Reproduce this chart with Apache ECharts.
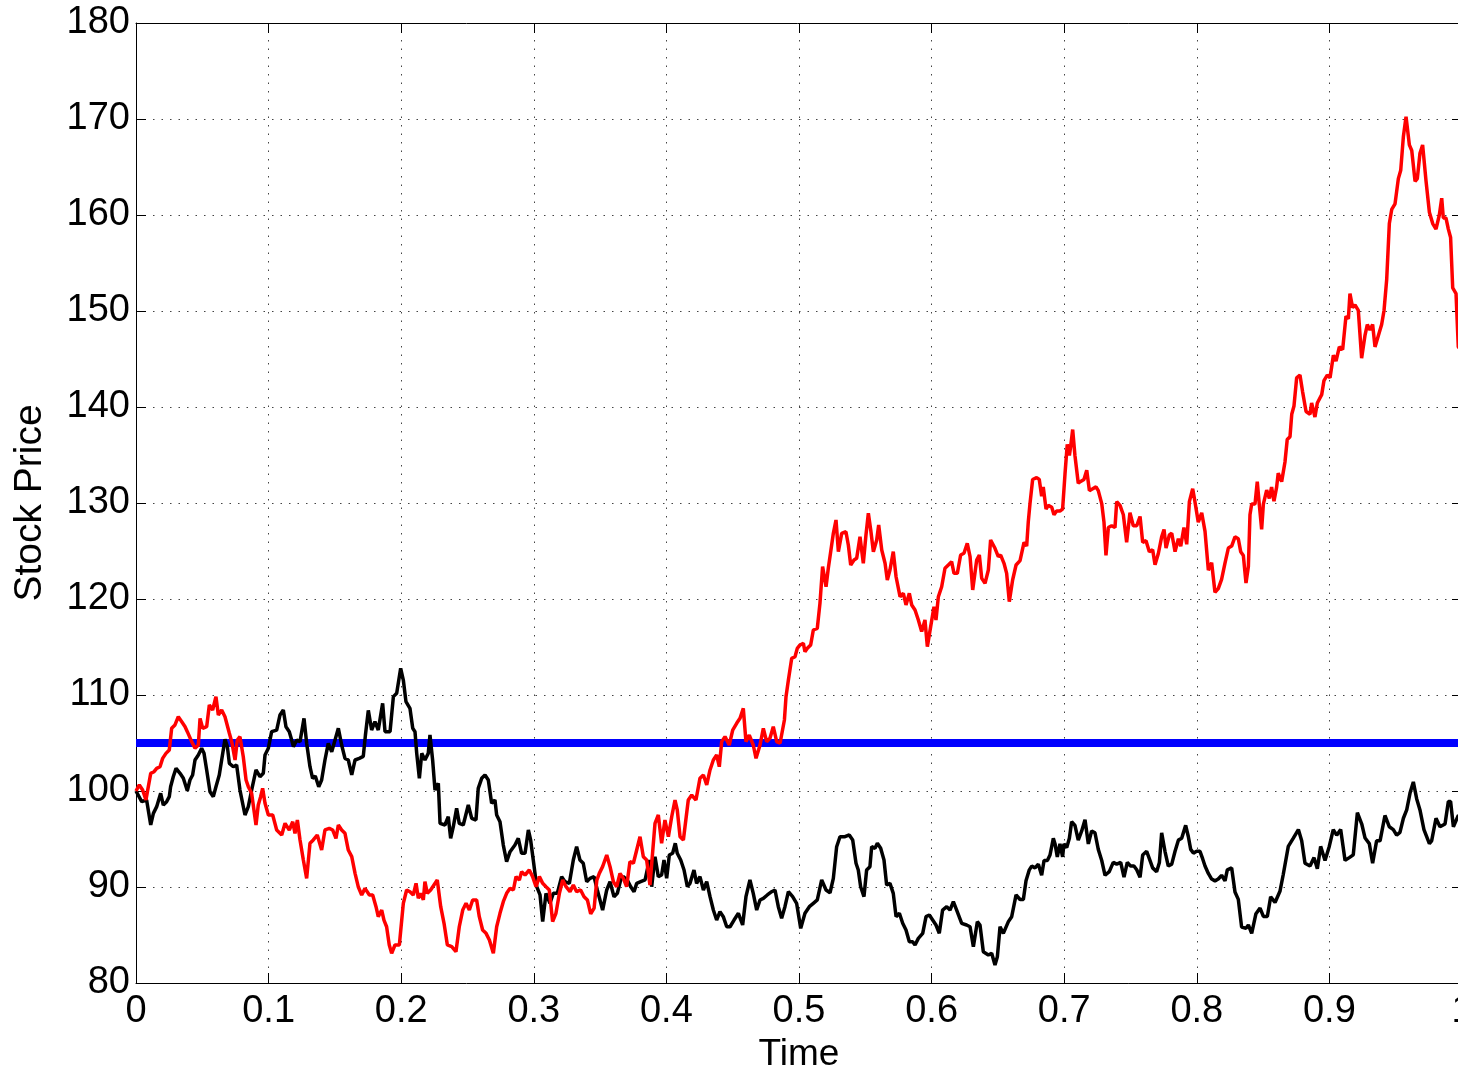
<!DOCTYPE html>
<html>
<head>
<meta charset="utf-8">
<script src="https://cdn.jsdelivr.net/npm/echarts@6/dist/echarts.min.js"></script>
<style>
html,body{margin:0;padding:0;background:#fff;}
#chart{width:1458px;height:1068px;}
</style>
</head>
<body>
<div id="chart"></div>
<script>
// ---- data ----
const strikePrice = 105;
const strikeTimes = [0, 1];

const blackTimes = [0,0.0043,0.0080,0.0111,0.0131,0.0156,0.0186,0.0206,0.0231,0.0251,0.0261,0.0281,0.0302,0.0332,0.0357,0.0387,0.0407,0.0427,0.0445,0.0470,0.0495,0.0513,0.0533,0.0558,0.0583,0.0603,0.0628,0.0646,0.0671,0.0689,0.0704,0.0734,0.0759,0.0784,0.0822,0.0847,0.0872,0.0905,0.0935,0.0960,0.0973,0.0998,0.1023,0.1061,0.1086,0.1111,0.1131,0.1156,0.1174,0.1187,0.1212,0.1237,0.1267,0.1287,0.1312,0.1332,0.1352,0.1378,0.1400,0.1425,0.1450,0.1476,0.1501,0.1526,0.1551,0.1576,0.1601,0.1627,0.1652,0.1684,0.1714,0.1730,0.1752,0.1777,0.1802,0.1827,0.1860,0.1878,0.1916,0.1941,0.1966,0.1996,0.2016,0.2036,0.2066,0.2087,0.2104,0.2117,0.2137,0.2155,0.2179,0.2204,0.2217,0.2237,0.2255,0.2280,0.2293,0.2330,0.2355,0.2373,0.2393,0.2418,0.2438,0.2468,0.2506,0.2532,0.2564,0.2581,0.2607,0.2632,0.2657,0.2682,0.2707,0.2720,0.2745,0.2770,0.2795,0.2821,0.2858,0.2883,0.2908,0.2934,0.2959,0.2976,0.2996,0.3022,0.3047,0.3067,0.3092,0.3122,0.3147,0.3177,0.3210,0.3235,0.3268,0.3298,0.3323,0.3348,0.3373,0.3399,0.3424,0.3454,0.3479,0.3519,0.3550,0.3575,0.3605,0.3630,0.3655,0.3675,0.3705,0.3731,0.3756,0.3776,0.3806,0.3839,0.3871,0.3889,0.3914,0.3939,0.3964,0.3982,0.4002,0.4022,0.4047,0.4067,0.4082,0.4108,0.4133,0.4158,0.4178,0.4208,0.4228,0.4253,0.4279,0.4304,0.4329,0.4354,0.4379,0.4404,0.4429,0.4455,0.4480,0.4510,0.4543,0.4575,0.4600,0.4630,0.4655,0.4681,0.4706,0.4731,0.4761,0.4794,0.4819,0.4844,0.4869,0.4894,0.4920,0.4952,0.4982,0.5013,0.5045,0.5078,0.5108,0.5138,0.5171,0.5204,0.5234,0.5259,0.5284,0.5309,0.5347,0.5379,0.5405,0.5430,0.5447,0.5465,0.5490,0.5510,0.5535,0.5548,0.5573,0.5591,0.5616,0.5641,0.5661,0.5686,0.5711,0.5732,0.5757,0.5782,0.5807,0.5832,0.5857,0.5875,0.5900,0.5933,0.5958,0.5983,0.6008,0.6033,0.6058,0.6083,0.6114,0.6139,0.6164,0.6189,0.6227,0.6264,0.6290,0.6315,0.6345,0.6365,0.6390,0.6428,0.6453,0.6478,0.6496,0.6516,0.6541,0.6579,0.6604,0.6637,0.6667,0.6692,0.6712,0.6737,0.6755,0.6780,0.6805,0.6830,0.6848,0.6873,0.6893,0.6918,0.6931,0.6948,0.6968,0.6988,0.6998,0.7019,0.7039,0.7056,0.7081,0.7106,0.7132,0.7157,0.7182,0.7207,0.7232,0.7257,0.7283,0.7308,0.7340,0.7370,0.7396,0.7426,0.7451,0.7476,0.7501,0.7526,0.7547,0.7572,0.7592,0.7622,0.7642,0.7667,0.7697,0.7718,0.7735,0.7760,0.7785,0.7811,0.7836,0.7861,0.7886,0.7916,0.7936,0.7954,0.7974,0.7999,0.8024,0.8044,0.8062,0.8087,0.8112,0.8137,0.8162,0.8187,0.8213,0.8230,0.8263,0.8288,0.8313,0.8338,0.8371,0.8389,0.8414,0.8446,0.8477,0.8502,0.8532,0.8557,0.8590,0.8627,0.8652,0.8690,0.8728,0.8766,0.8791,0.8816,0.8854,0.8884,0.8909,0.8934,0.8967,0.8999,0.9029,0.9055,0.9085,0.9118,0.9150,0.9180,0.9211,0.9244,0.9269,0.9301,0.9326,0.9356,0.9382,0.9419,0.9452,0.9482,0.9507,0.9532,0.9558,0.9583,0.9608,0.9633,0.9658,0.9683,0.9713,0.9754,0.9771,0.9804,0.9834,0.9872,0.9897,0.9914,0.9935,0.9972,1.0];
const blackPrices = [100,98.89,99.06,96.46,97.67,98.37,99.76,98.54,98.89,99.41,100.45,101.49,102.36,101.84,101.32,100.03,101.15,101.67,103.23,103.75,104.45,103.92,102.19,99.93,99.41,100.45,101.67,103.23,105.38,104.62,102.88,102.53,102.71,100.10,97.50,98.37,100.10,102.19,101.49,101.84,103.75,104.45,106.18,106.35,107.92,108.44,106.70,106.18,105.31,104.62,105.31,105.14,107.57,104.97,102.53,101.32,101.56,100.45,101.15,103.23,104.97,104.09,105.31,106.53,104.79,103.40,103.23,101.67,103.23,103.40,103.6,105.8,108.4,106.35,107.22,106.35,109.13,106.18,106.18,109.83,110.18,112.78,111.56,109.31,108.61,106.53,106.18,103.92,101.32,103.92,103.23,103.92,105.83,103.23,100.10,100.80,96.63,96.46,97.32,95.07,96.28,98.19,96.63,96.46,98.54,97.15,96.98,100.28,101.32,101.67,101.15,98.72,99.06,97.50,96.80,94.37,92.64,93.68,94.37,95.07,93.51,93.51,95.94,94.90,92.81,90.03,89.17,86.39,89.34,88.30,89.34,89.34,91.08,90.55,90.38,92.81,94.20,92.81,92.47,90.55,90.9,91.08,89.69,87.60,89.69,90.55,88.99,89.34,90.73,91.08,90.73,90.03,89.51,90.38,90.55,90.73,92.81,90.03,93.16,91.08,91.25,92.81,90.90,93.33,93.51,94.55,93.51,92.81,91.77,90.03,90.38,91.77,90.38,91.08,89.69,90.55,88.99,87.60,86.56,87.43,86.91,85.86,85.86,86.56,87.26,86.04,88.99,90.73,89.34,87.60,88.65,88.82,89.17,89.51,89.69,87.95,86.74,87.95,89.51,88.99,88.30,85.69,87.26,87.95,88.30,88.65,90.73,89.69,89.4,90.90,94.20,95.24,95.24,95.42,94.90,92.47,91.77,90.03,88.99,91.77,92.12,94.20,94.03,94.55,94.03,92.81,90.21,90.38,89.34,86.91,87.26,86.22,85.52,84.30,84.30,83.96,84.65,85.17,86.91,87.08,86.56,86.04,85.17,87.60,87.95,87.60,88.47,87.60,86.22,86.04,85.86,83.78,86.39,86.04,83.26,82.92,83.09,81.88,82.74,85.86,85.17,86.39,86.91,89.17,88.7,88.71,90.64,91.79,92.18,91.99,92.38,91.22,92.76,92.76,93.33,95.07,94.49,93.14,94.49,93.14,94.49,94.10,95.07,96.80,96.42,94.88,95.84,97.00,94.49,95.84,95.65,93.92,92.76,91.22,91.60,92.56,92.38,92.56,91.02,92.56,92.18,92.18,91.79,91.02,93.33,93.72,92.95,91.99,91.60,92.56,95.65,93.72,92.18,92.38,93.72,94.88,95.07,96.42,95.26,93.92,93.53,93.72,93.72,92.95,92.18,91.41,90.83,90.64,90.83,91.22,90.64,91.79,91.99,89.48,88.71,85.82,85.7,86.04,85.17,87.22,87.80,86.93,86.93,88.97,88.39,89.55,91.30,94.23,95.10,95.98,94.81,92.48,92.19,93.06,91.89,94.23,92.77,94.23,95.98,95.40,95.98,92.77,93.06,93.35,97.74,96.56,95.10,94.52,92.48,94.81,94.81,97.45,96.27,95.98,95.40,95.69,97.16,98.03,99.78,100.95,99.20,98.03,95.98,94.52,94.81,97.16,96.27,96.56,98.91,98.91,96.27,97.45,97.3];

const redTimes = [0,0.0025,0.0050,0.0075,0.0093,0.0111,0.0136,0.0156,0.0181,0.0201,0.0226,0.0251,0.0269,0.0294,0.0319,0.0345,0.0370,0.0387,0.0402,0.0420,0.0445,0.0470,0.0483,0.0503,0.0533,0.0553,0.0578,0.0603,0.0621,0.0646,0.0671,0.0704,0.0722,0.0747,0.0764,0.0784,0.0809,0.0830,0.0847,0.0872,0.0905,0.0922,0.0940,0.0955,0.0973,0.0998,0.1031,0.1061,0.1099,0.1124,0.1156,0.1182,0.1199,0.1217,0.1237,0.1262,0.1287,0.1312,0.1337,0.1367,0.1400,0.1425,0.1458,0.1483,0.1508,0.1526,0.1551,0.1576,0.1601,0.1627,0.1652,0.1676,0.1702,0.1727,0.1760,0.1785,0.1810,0.1827,0.1853,0.1870,0.1890,0.1910,0.1928,0.1953,0.1986,0.2004,0.2016,0.2041,0.2066,0.2091,0.2112,0.2129,0.2147,0.2167,0.2179,0.2197,0.2222,0.2247,0.2272,0.2298,0.2323,0.2348,0.2381,0.2413,0.2438,0.2464,0.2489,0.2514,0.2539,0.2569,0.2589,0.2614,0.2640,0.2665,0.2695,0.2720,0.2745,0.2770,0.2795,0.2821,0.2846,0.2866,0.2891,0.2908,0.2934,0.2966,0.2991,0.3017,0.3042,0.3067,0.3092,0.3117,0.3142,0.3167,0.3193,0.3218,0.3243,0.3273,0.3298,0.3323,0.3353,0.3379,0.3404,0.3429,0.3455,0.3475,0.3494,0.3519,0.3550,0.3575,0.3600,0.3625,0.3650,0.3675,0.3700,0.3725,0.3751,0.3776,0.3801,0.3826,0.3851,0.3876,0.3914,0.3939,0.3964,0.3989,0.4015,0.4040,0.4065,0.4082,0.4103,0.4128,0.4140,0.4165,0.4191,0.4223,0.4253,0.4279,0.4304,0.4329,0.4354,0.4379,0.4399,0.4417,0.4442,0.4474,0.4500,0.4530,0.4555,0.4580,0.4600,0.4625,0.4655,0.4676,0.4706,0.4731,0.4756,0.4781,0.4806,0.4832,0.4857,0.4870,0.4890,0.4902,0.4920,0.4945,0.4970,0.4987,0.5008,0.5033,0.5045,0.5063,0.5088,0.5108,0.5138,0.5158,0.5178,0.5204,0.5221,0.5239,0.5259,0.5279,0.5297,0.5322,0.5354,0.5372,0.5390,0.5415,0.5435,0.5460,0.5485,0.5505,0.5523,0.5541,0.5561,0.5586,0.5601,0.5624,0.5649,0.5666,0.5686,0.5711,0.5732,0.5762,0.5787,0.5807,0.5832,0.5850,0.5875,0.5900,0.5925,0.5950,0.5968,0.5993,0.6018,0.6033,0.6051,0.6076,0.6101,0.6126,0.6151,0.6169,0.6194,0.6219,0.6244,0.6269,0.6290,0.6310,0.6340,0.6360,0.6378,0.6403,0.6428,0.6445,0.6478,0.6503,0.6521,0.6546,0.6566,0.6586,0.6611,0.6637,0.6667,0.6697,0.6717,0.6729,0.6742,0.6762,0.6792,0.6812,0.6830,0.6842,0.6863,0.6880,0.6906,0.6923,0.6943,0.6968,0.6988,0.7006,0.7023,0.7039,0.7049,0.7064,0.7081,0.7106,0.7124,0.7149,0.7170,0.7190,0.7215,0.7240,0.7257,0.7283,0.7300,0.7315,0.7333,0.7358,0.7383,0.7396,0.7421,0.7446,0.7471,0.7496,0.7521,0.7547,0.7572,0.7592,0.7617,0.7642,0.7667,0.7685,0.7710,0.7735,0.7753,0.7768,0.7793,0.7811,0.7836,0.7861,0.7879,0.7903,0.7924,0.7944,0.7969,0.7986,0.8011,0.8037,0.8062,0.8087,0.8112,0.8137,0.8162,0.8187,0.8213,0.8238,0.8263,0.8288,0.8313,0.8331,0.8351,0.8371,0.8389,0.8401,0.8414,0.8439,0.8456,0.8471,0.8489,0.8502,0.8527,0.8547,0.8564,0.8582,0.8602,0.8614,0.8640,0.8665,0.8682,0.8703,0.8716,0.8733,0.8753,0.8778,0.8798,0.8824,0.8854,0.8866,0.8891,0.8909,0.8942,0.8959,0.8984,0.9005,0.9030,0.9050,0.9075,0.9100,0.9125,0.9143,0.9155,0.9175,0.9193,0.9218,0.9243,0.9268,0.9286,0.9306,0.9326,0.9344,0.9369,0.9394,0.9412,0.9432,0.9452,0.9470,0.9495,0.9520,0.9538,0.9558,0.9578,0.9603,0.9621,0.9646,0.9663,0.9683,0.9703,0.9729,0.9754,0.9779,0.9804,0.9829,0.9847,0.9859,0.9879,0.9897,0.9914,0.9930,0.9955,0.9972,1.0];
const redPrices = [100,100.63,100.10,99.06,100.45,101.84,102.01,102.36,102.53,103.40,103.92,104.27,106.53,106.88,107.74,107.22,106.70,106.18,106.35,105.14,104.45,104.79,107.57,106.53,106.70,108.96,108.44,109.83,107.92,108.44,107.74,106.01,105.14,103.23,105.31,105.66,103.57,101.15,100.45,99.76,96.46,98.54,99.41,100.28,98.72,97.50,97.50,95.94,95.42,96.63,95.94,96.80,95.59,96.98,94.90,92.81,90.90,94.55,94.90,95.42,93.85,95.94,96.11,95.94,95.07,96.46,95.94,95.59,93.85,93.16,91.42,90.03,89.17,89.86,89.17,89.17,87.95,86.91,87.60,86.56,85.86,83.96,83.09,83.96,83.96,86.56,88.30,89.69,89.51,89.17,90.38,88.82,89.34,88.65,90.55,89.34,89.69,90.21,90.73,87.95,86.22,83.96,83.78,83.26,85.86,87.60,88.30,87.60,88.65,88.65,86.91,85.52,85.17,84.48,83.09,85.86,87.26,88.47,89.34,89.86,89.69,91.08,90.73,91.60,91.25,91.77,91.08,90.03,91.08,90.38,90.03,89.69,86.39,87.26,89.34,90.73,90.03,89.51,90.21,89.51,89.69,88.99,88.65,87.2,87.8,90.7,91.42,92.12,93.33,92.12,90.55,90.03,91.42,90.90,90.03,92.64,92.47,93.85,95.24,93.16,92.81,90.21,96.63,97.50,94.55,96.98,95.24,97.32,99.06,98.02,95.24,94.90,94.72,99.06,99.58,99.06,101.32,101.67,100.63,102.19,103.23,103.75,102.53,105.14,105.66,104.79,106.35,107.05,107.57,108.61,105.14,105.83,104.79,103.40,104.79,106.53,105.14,105.49,106.70,105.14,104.97,104.9,107.4,109.83,111.56,113.82,113.99,114.86,115.21,115.38,114.51,114.86,115.21,116.77,116.95,119.55,123.37,121.28,123.20,124.93,126.84,128.23,124.93,126.84,127.01,125.63,123.54,124.06,124.24,126.49,123.72,126.67,128.93,127.19,124.93,126.15,127.71,125.10,123.72,121.98,123.02,124.93,122.32,120.24,120.59,119.38,120.59,119.38,118.85,117.81,116.60,117.81,115.03,117.12,119.20,117.81,120.24,121.28,123.20,123.54,123.89,122.67,122.67,124.58,124.76,125.80,124.41,120.94,124.06,124.58,122.15,121.63,123.02,126.15,125.28,124.41,124.58,123.72,122.67,119.72,121.98,123.54,124.0,125.90,125.51,128.01,129.94,132.45,132.64,132.45,130.71,131.68,129.36,129.75,129.55,128.78,129.17,129.17,129.36,133.02,136.10,134.95,135.92,137.65,134.95,132.06,132.25,132.45,133.41,131.29,131.48,131.68,131.29,129.94,128.01,124.54,127.44,127.63,127.44,130.14,129.75,128.78,125.90,128.98,127.63,127.63,128.59,125.90,126.08,124.93,125.13,123.58,124.74,126.47,127.24,125.31,126.67,126.85,124.93,126.28,125.51,127.44,125.70,130.14,131.48,130.14,128.01,128.98,127.05,123.00,123.77,120.70,121.08,122.04,123.77,125.31,125.51,126.47,126.28,124.93,124.54,121.66,123.39,128.78,129.89,129.89,132.23,129.89,127.26,129.89,131.35,130.47,131.65,130.18,131.65,133.10,132.23,134.27,136.61,136.91,139.24,140.11,143.04,143.33,141.58,139.53,139.24,140.42,138.95,140.42,141.29,142.75,143.33,143.04,145.39,144.79,146.26,145.97,149.47,149.18,151.81,150.35,150.64,150.06,145.08,147.43,148.59,148.01,148.59,146.26,147.43,148.59,150.06,153.27,159.11,160.58,161.17,163.79,164.67,168.18,170.23,167.30,166.72,163.50,163.79,166.43,167.30,163.50,160.29,159.11,158.53,160.00,161.75,159.70,159.70,158.53,157.66,152.40,151.81,146.26,145.8];

const xTickValues = [0,0.1,0.2,0.3,0.4,0.5,0.6,0.7,0.8,0.9,1];
const yTickValues = [80,90,100,110,120,130,140,150,160,170,180];
const xAxisName = 'Time';
const yAxisName = 'Stock Price';

// ---- build ----
const zip = (xs, ys) => xs.map((x, i) => [x, ys[i]]);
const FONT = '"Liberation Sans", Arial, Helvetica, sans-serif';
const chart = echarts.init(document.getElementById('chart'), null, {renderer: 'canvas'});

const gridDash = {type: [1.5, 7], color: '#444', width: 1};
const axisCommon = {
  axisLine: {show: true, onZero: false, lineStyle: {color: '#000', width: 1}},
  axisTick: {show: true, inside: true, length: 10, lineStyle: {color: '#000', width: 1}}
};

chart.setOption({
  animation: false,
  backgroundColor: '#fff',
  grid: {left: 136, top: 23, width: 1326, height: 960, containLabel: false, outerBoundsMode: 'none'},
  xAxis: [
    Object.assign({
      type: 'value', min: 0, max: 1, interval: 0.1, position: 'bottom',
      name: xAxisName, nameLocation: 'middle', nameGap: 43,
      nameTextStyle: {fontSize: 37, color: '#000', fontFamily: FONT},
      axisLabel: {fontSize: 38, color: '#000', fontFamily: FONT, margin: 10,
        formatter: v => String(Math.round(v * 10) / 10)},
      splitLine: {show: true, lineStyle: gridDash}
    }, axisCommon),
    Object.assign({
      type: 'value', min: 0, max: 1, interval: 0.1, position: 'top',
      axisLabel: {show: false}, splitLine: {show: false}
    }, axisCommon)
  ],
  yAxis: [
    Object.assign({
      type: 'value', min: 80, max: 180, interval: 10, position: 'left',
      name: yAxisName, nameLocation: 'middle', nameGap: 86, nameRotate: 90,
      nameTextStyle: {fontSize: 39, color: '#000', fontFamily: FONT},
      axisLabel: {fontSize: 38, color: '#000', fontFamily: FONT, margin: 6},
      splitLine: {show: true, lineStyle: gridDash}
    }, axisCommon),
    Object.assign({
      type: 'value', min: 80, max: 180, interval: 10, position: 'right',
      axisLabel: {show: false}, splitLine: {show: false}
    }, axisCommon)
  ],
  series: [
    {type: 'line', data: zip(strikeTimes, [strikePrice, strikePrice]), showSymbol: false,
     lineStyle: {color: '#0000ff', width: 8}, z: 2},
    {type: 'line', data: zip(blackTimes, blackPrices), showSymbol: false,
     lineStyle: {color: '#000000', width: 3.5}, z: 3},
    {type: 'line', data: zip(redTimes, redPrices), showSymbol: false,
     lineStyle: {color: '#ff0000', width: 3.5}, z: 4}
  ]
});
</script>
</body>
</html>
